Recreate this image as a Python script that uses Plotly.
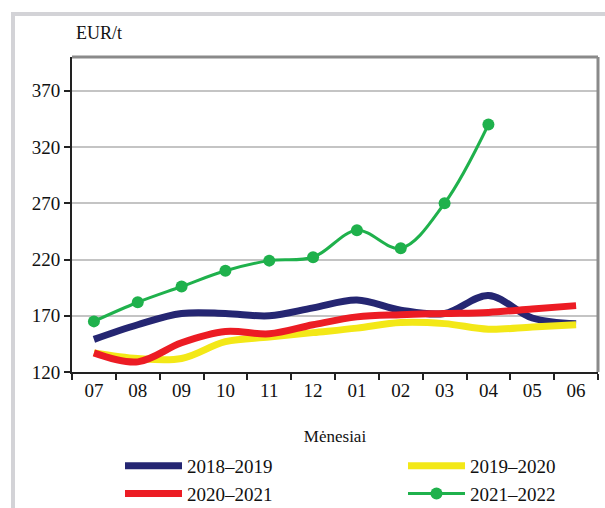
import plotly.graph_objects as go

months = ["07", "08", "09", "10", "11", "12", "01", "02", "03", "04", "05", "06"]
s2018 = [149, 162, 172, 172, 170, 177, 184, 175, 172, 188, 168, 163]
s2019 = [137, 132, 132, 147, 151, 155, 159, 164, 163, 158, 160, 162]
s2020 = [137, 129, 146, 156, 154, 162, 169, 171, 172, 173, 176, 179]
s2021 = [165, 182, 196, 210, 219, 222, 246, 230, 270, 340]
names = ["2018\u20132019", "2019\u20132020", "2020\u20132021", "2021\u20132022"]
yticks = [120, 170, 220, 270, 320, 370]

FONT = "Liberation Serif"
W, H = 605, 508
L, R, T, B = 72, 7, 57, 136
pw, ph = W - L - R, H - T - B

def px2paper_x(px):
    return (px - L) / pw

def px2paper_y(py):
    return (H - B - py) / ph

fig = go.Figure()
fig.add_trace(go.Scatter(x=months, y=s2018, name=names[0], mode="lines", legend="legend",
                         line=dict(color="#252672", width=7, shape="spline", smoothing=1)))
fig.add_trace(go.Scatter(x=months, y=s2019, name=names[1], mode="lines", legend="legend2",
                         line=dict(color="#f3e817", width=7, shape="spline", smoothing=1)))
fig.add_trace(go.Scatter(x=months, y=s2020, name=names[2], mode="lines", legend="legend",
                         line=dict(color="#ec1c24", width=7, shape="spline", smoothing=1)))
fig.add_trace(go.Scatter(x=months[:len(s2021)], y=s2021, name=names[3], mode="lines+markers",
                         legend="legend2",
                         line=dict(color="#1fb14c", width=3, shape="spline", smoothing=1),
                         marker=dict(color="#1fb14c", size=12)))

shapes = [
    # outer frame
    dict(type="line", xref="paper", yref="paper",
         x0=px2paper_x(13), x1=px2paper_x(13), y0=px2paper_y(14), y1=px2paper_y(520),
         line=dict(color="#d3d3d7", width=4), layer="below"),
    dict(type="line", xref="paper", yref="paper",
         x0=px2paper_x(11), x1=px2paper_x(620), y0=px2paper_y(14), y1=px2paper_y(14),
         line=dict(color="#d3d3d7", width=4), layer="below"),
    # top and right plot borders
    dict(type="line", xref="paper", yref="paper", x0=0, x1=1, y0=1, y1=1,
         line=dict(color="#8a8a8a", width=3)),
    dict(type="line", xref="paper", yref="paper", x0=1, x1=1, y0=0, y1=1,
         line=dict(color="#8a8a8a", width=3)),
]

legend_common = dict(orientation="v", xref="container", yref="container",
                     xanchor="left", yanchor="top", itemwidth=57,
                     font=dict(family=FONT, size=19), bgcolor="rgba(0,0,0,0)",
                     tracegroupgap=0)

fig.update_layout(
    width=W, height=H,
    margin=dict(l=L, r=R, t=T, b=B, autoexpand=False),
    paper_bgcolor="white", plot_bgcolor="white",
    font=dict(family=FONT, size=18, color="#111111"),
    shapes=shapes,
    xaxis=dict(type="category", range=[-0.5, 11.5], tickson="boundaries",
               ticks="outside", ticklen=6, tickcolor="#222", tickwidth=1.5,
               showline=True, linecolor="#222", linewidth=2, showgrid=False,
               tickfont=dict(family=FONT, size=19), zeroline=False,
               title=dict(text="Mėnesiai", font=dict(family=FONT, size=17), standoff=30)),
    yaxis=dict(range=[120, 400], tickvals=yticks, ticks="outside", ticklen=6,
               tickcolor="#222", tickwidth=1.5, showline=True, linecolor="#222",
               linewidth=2, showgrid=True, gridcolor="#c4c4c4", gridwidth=1.5,
               zeroline=False, tickfont=dict(family=FONT, size=19)),
    legend=dict(x=120 / W, y=1 - 447 / H, **legend_common),
    legend2=dict(x=403 / W, y=1 - 447 / H, **legend_common),
    showlegend=True,
    annotations=[dict(text="EUR/t", xref="paper", yref="paper",
                      x=px2paper_x(74), y=px2paper_y(33), xanchor="left", yanchor="middle",
                      showarrow=False, font=dict(family=FONT, size=18))],
)

fig.write_html("out.html", config={"displayModeBar": False},
               post_script="document.body.style.margin='0';")
